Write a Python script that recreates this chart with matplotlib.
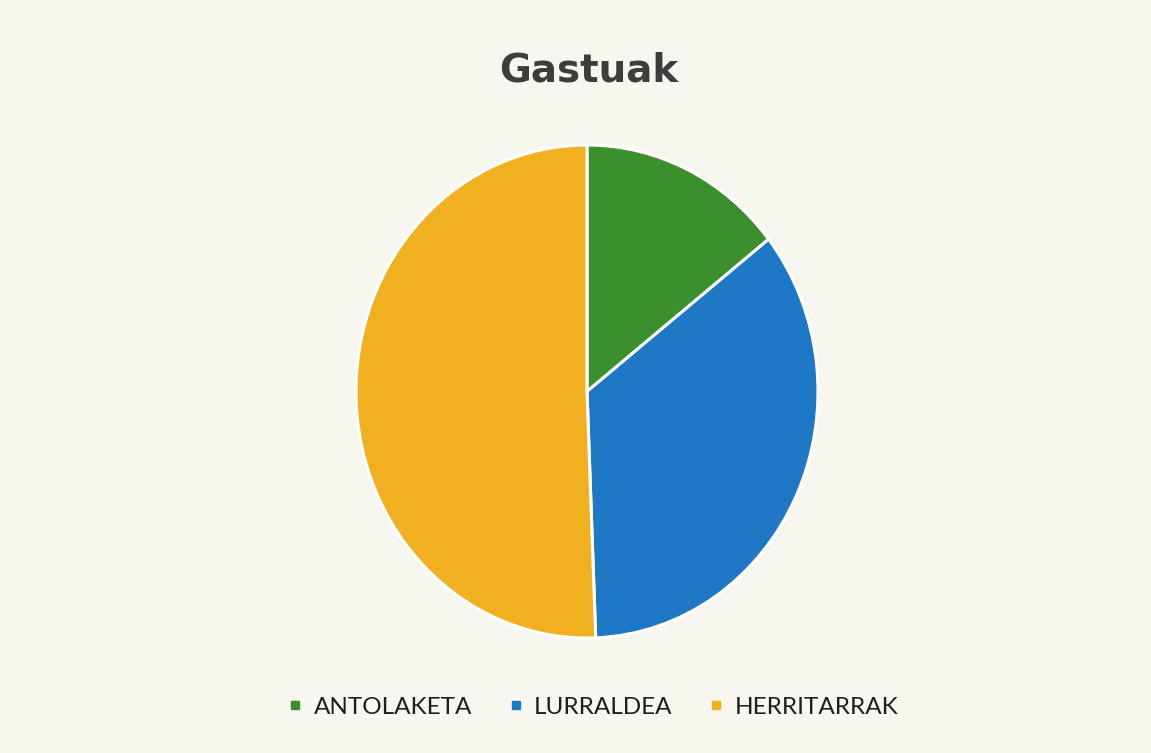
import matplotlib
matplotlib.use("Agg")
import matplotlib.pyplot as plt
from matplotlib.lines import Line2D

title = "Gastuak"
categories = ["ANTOLAKETA", "LURRALDEA", "HERRITARRAK"]
values = [14.4, 35.0, 50.6]
colors = ["#3b8f2c", "#1f78c6", "#f1b01f"]

bg = "#f8f7ef"
fig = plt.figure(figsize=(11.51, 7.53), dpi=100, facecolor=bg)
ax = fig.add_axes([356/1151, (753-638)/753, 462/1151, 493/753])
ax.set_facecolor(bg)
ax.pie(values, colors=colors, startangle=90, counterclock=False,
       wedgeprops=dict(edgecolor="white", linewidth=2.2))
ax.set_aspect("auto")
ax.set_xlim(-1, 1)
ax.set_ylim(-1, 1)
ax.axis("off")

fig.text(589/1151, 1 - 82/753, title, ha="center", va="baseline",
         fontsize=28, fontweight="bold", color="#3d3d3d",
         family=["DejaVu Sans"])

handles = [Line2D([], [], marker="s", linestyle="none", markersize=6,
                  markerfacecolor=c, markeredgecolor=c) for c in colors]
leg = fig.legend(handles, categories, loc="center",
                 bbox_to_anchor=(593/1151, 1 - 707/753), ncol=3,
                 frameon=False, handlelength=0.6, handletextpad=0.45,
                 columnspacing=1.5,
                 prop=dict(family=["Lato", "DejaVu Sans"], size=17.5))
for t in leg.get_texts():
    t.set_color("#1e1e1e")

fig.savefig("out.png", dpi=100, facecolor=bg)
